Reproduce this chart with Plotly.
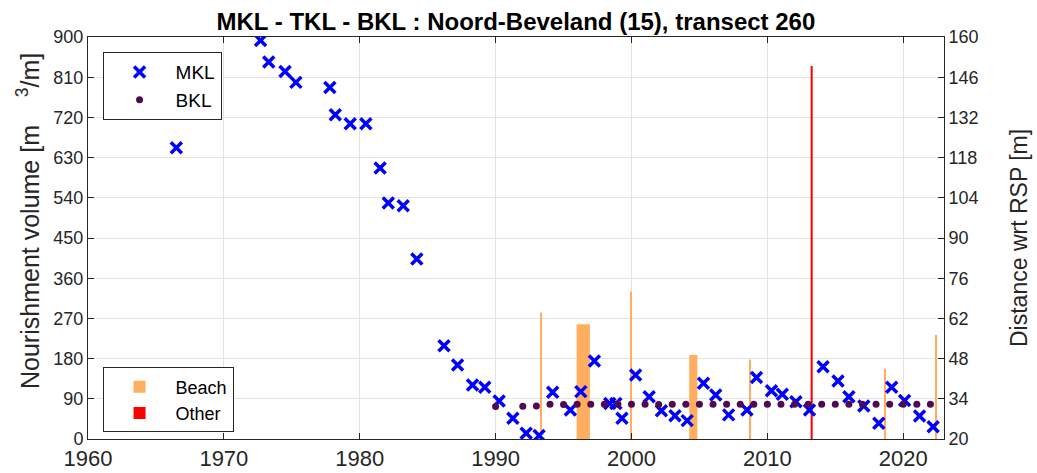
import plotly.graph_objects as go

# --- data ---
mkl_years = [1966.5, 1967.4, 1972.7, 1973.3, 1974.5, 1975.3, 1977.8, 1978.2, 1979.3, 1980.45,
             1981.5, 1982.1, 1983.2, 1984.2, 1986.2, 1987.2, 1988.3, 1989.2, 1990.26, 1991.27,
             1992.25, 1993.2, 1994.2, 1995.5, 1996.27, 1997.27, 1998.4, 1998.85, 1999.3, 2000.3,
             2001.3, 2002.2, 2003.2, 2004.1, 2005.3, 2006.2, 2007.15, 2008.5, 2009.2, 2010.3,
             2011.1, 2012.1, 2013.1, 2014.1, 2015.2, 2016.0, 2017.1, 2018.2, 2019.15, 2020.1,
             2021.2, 2022.2]
mkl_dist = [121.4, 134.7, 158.8, 151.3, 148.0, 144.2, 142.4, 132.9, 129.8, 129.8,
            114.4, 102.2, 101.2, 82.7, 52.5, 45.8, 38.8, 38.0, 33.2, 27.2,
            22.0, 21.2, 36.3, 30.1, 36.5, 47.2, 32.4, 32.4, 27.2, 42.3,
            34.7, 29.8, 28.1, 26.4, 39.4, 35.3, 28.4, 30.1, 41.4, 36.8,
            35.6, 33.0, 30.1, 45.2, 40.2, 34.7, 31.5, 25.5, 38.0, 33.4,
            28.0, 24.3]

bkl_years = [1990, 1992, 1993, 1994, 1995, 1996, 1997, 1998, 1999, 2000, 2001, 2002, 2003,
             2004, 2005, 2006, 2007, 2008, 2009, 2010, 2011, 2012, 2013, 2014, 2015, 2016,
             2017, 2018, 2019, 2020, 2021, 2022]
bkl_dist = [31.3, 31.4, 31.5, 32.1, 32.0, 32.1, 32.1, 32.1, 32.1, 32.1, 32.1, 32.0, 32.1,
            32.1, 32.1, 32.1, 32.1, 32.1, 32.1, 32.1, 32.1, 32.1, 32.1, 32.1, 32.1, 32.1,
            32.1, 32.1, 32.1, 32.1, 32.1, 32.1]

beach_years = [1993.35, 1996.45, 2000.0, 2004.55, 2008.7, 2018.65, 2022.45]
beach_volume = [283, 257, 330, 188, 178, 158, 233]
beach_duration = [0.08, 0.98, 0.08, 0.6, 0.08, 0.08, 0.08]

other_years = [2013.26]
other_volume = [835]
other_duration = [0.15]

left_ticks = [0, 90, 180, 270, 360, 450, 540, 630, 720, 810, 900]
right_ticks = [20, 34, 48, 62, 76, 90, 104, 118, 132, 146, 160]
x_ticks = [1960, 1970, 1980, 1990, 2000, 2010, 2020]

title_text = "<b>MKL - TKL - BKL : Noord-Beveland (15), transect 260</b>"
left_title = "Nourishment volume [m&nbsp;&nbsp;&nbsp;&nbsp;<sup>3</sup>/m]"
right_title = "Distance wrt RSP [m]"

FONT = "Liberation Sans, Arial, Helvetica, sans-serif"
AX = "#262626"
GRID = "#e3e3e3"

fig = go.Figure()

fig.add_trace(go.Bar(x=beach_years, y=beach_volume, width=beach_duration, name="Beach",
                     marker=dict(color="#FFAE60", line=dict(width=0)), legend="legend2",
                     yaxis="y"))
fig.add_trace(go.Bar(x=other_years, y=other_volume, width=other_duration, name="Other",
                     marker=dict(color="#FF0000", line=dict(width=0)), legend="legend2",
                     yaxis="y"))

fig.add_trace(go.Scatter(x=mkl_years, y=mkl_dist, mode="markers", name="MKL", yaxis="y2",
                         marker=dict(symbol="x-thin", size=11, color="#0000FF",
                                     line=dict(width=3.5, color="#0000FF")),
                         legend="legend"))
fig.add_trace(go.Scatter(x=bkl_years, y=bkl_dist, mode="markers", name="BKL", yaxis="y2",
                         marker=dict(symbol="circle", size=7, color="#500A50"),
                         legend="legend"))

fig.update_layout(
    width=1037, height=473,
    margin=dict(l=88, r=93, t=37, b=34, autoexpand=False),
    paper_bgcolor="white", plot_bgcolor="white",
    font=dict(family=FONT, color=AX),
    barmode="overlay",
    title=dict(text=title_text, x=0.4975, xanchor="center", y=0.955, yanchor="middle",
               font=dict(size=24, color="black", family=FONT)),
    xaxis=dict(range=[1960, 2023], tickvals=x_ticks, showgrid=True, gridcolor=GRID,
               showline=True, linecolor=AX, mirror="ticks", ticks="inside", ticklen=6,
               tickcolor=AX, tickfont=dict(size=22, color=AX), zeroline=False,
               automargin=False),
    yaxis=dict(range=[0, 900], tickvals=left_ticks, showgrid=True, gridcolor=GRID,
               showline=True, linecolor=AX, ticks="inside", ticklen=6, tickcolor=AX,
               tickfont=dict(size=18, color=AX), zeroline=False, automargin=False),
    yaxis2=dict(range=[20, 160], tickvals=right_ticks, overlaying="y", side="right",
                showgrid=False, showline=True, linecolor=AX, ticks="inside", ticklen=6,
                tickcolor=AX, tickfont=dict(size=18, color=AX), zeroline=False,
                automargin=False),
    legend=dict(x=0.017, y=0.9625, xanchor="left", yanchor="top",
                bgcolor="white", bordercolor=AX, borderwidth=1,
                font=dict(size=19, color="black", family=FONT),
                itemwidth=62, tracegroupgap=0),
    legend2=dict(x=0.017, y=0.178, xanchor="left", yanchor="top",
                 bgcolor="white", bordercolor=AX, borderwidth=1,
                 font=dict(size=18, color="black", family=FONT),
                 itemwidth=62, tracegroupgap=0),
    showlegend=True,
    annotations=[
        dict(text=left_title, xref="paper", yref="paper", x=-0.070, y=0.5425,
             xanchor="center", yanchor="middle", textangle=-90, showarrow=False,
             font=dict(size=25, color=AX, family=FONT)),
        dict(text=right_title, xref="paper", yref="paper", x=1.0876, y=0.5,
             xanchor="center", yanchor="middle", textangle=-90, showarrow=False,
             font=dict(size=23, color=AX, family=FONT)),
    ],
)

fig.write_html("out.html", config={"displayModeBar": False},
               post_script="document.body.style.margin='0px';")
